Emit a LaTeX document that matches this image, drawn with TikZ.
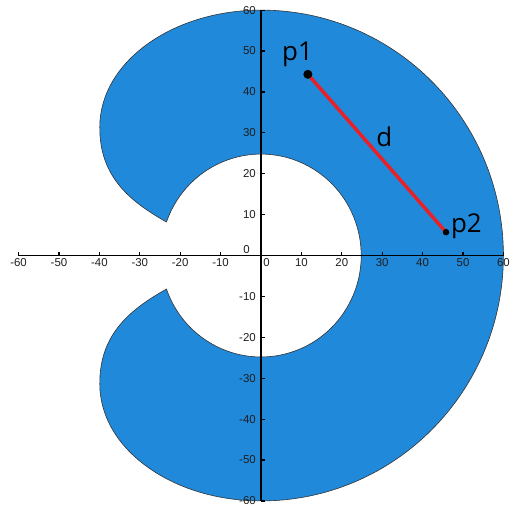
\documentclass[tikz,border=0pt]{standalone}
\usepackage{fontspec}
\setmainfont{Liberation Sans}
\newfontfamily\labelfont{Open Sans}
\definecolor{fillblue}{RGB}{32,137,218}
\definecolor{linered}{RGB}{232,32,40}
\definecolor{ticktext}{RGB}{30,30,30}
\begin{document}
\begin{tikzpicture}[x=4.04bp,y=4.09bp,
  axisline/.style={line width=1.6bp, black},
  tickmark/.style={line width=1.2bp, black},
  axislabel/.style={font=\fontsize{11.5}{12}\selectfont, text=ticktext, inner sep=0pt},
  ptlabel/.style={font=\labelfont\fontsize{26}{28}\selectfont, inner sep=0pt},
  dot/.style={circle, fill=black, inner sep=0pt}]
\useasboundingbox (-64.6,-62.96) rectangle (64.85,62.47);

% the shape
\filldraw[fill=fillblue, draw=black!80, line width=0.6bp]
  (0,60) arc[start angle=90, end angle=-90, radius=60]
  arc[start angle=270, end angle=180, x radius=39.9, y radius=28.6]
  .. controls (-40,-19) and (-32,-13) .. (-23.4,-8.2)
  arc[start angle=199.3, end angle=520.7, radius=24.8]
  .. controls (-32,13) and (-40,19) .. (-39.9,31.4)
  arc[start angle=180, end angle=90, x radius=39.9, y radius=28.6] -- cycle;

% axes
\draw[axisline] (-60,0) -- (60,0);
\draw[axisline] (0,-60) -- (0,60);
\foreach \v in {-60,-50,...,60} {
  \draw[tickmark] (\v,0) -- ++(0pt,4bp);
  \draw[tickmark] (0,\v) -- ++(4bp,0pt);
}
\foreach \v in {-60,-50,-40,-30,-20,-10,10,20,30,40,50,60} {
  \node[axislabel, anchor=north, yshift=-3bp] (xl\v) at (\v,0) {\v};
  \node[axislabel, anchor=east, xshift=-5bp] (yl\v) at (0,\v) {\v};
}
\node[axislabel, anchor=north, yshift=-3bp] (xl0) at (1.4,0) {0};
\node[axislabel, anchor=south east, xshift=-11bp, yshift=2bp] (yl0) at (0,0) {0};

% points and segment
\coordinate (c1) at (11.6,44.3);
\coordinate (c2) at (45.8,5.7);
\draw[linered, line width=3.5bp] (c1) -- (c2);
\node[dot, minimum size=9bp] (p1) at (c1) {};
\node[dot, minimum size=6.5bp] (p2) at (c2) {};
\node[ptlabel, anchor=base west] (lp1) at (5.2,47.6) {p1};
\node[ptlabel, anchor=base west] (ld) at (28.5,26.6) {d};
\node[ptlabel, anchor=base west] (lp2) at (47.0,5.7) {p2};
\end{tikzpicture}
\end{document}
